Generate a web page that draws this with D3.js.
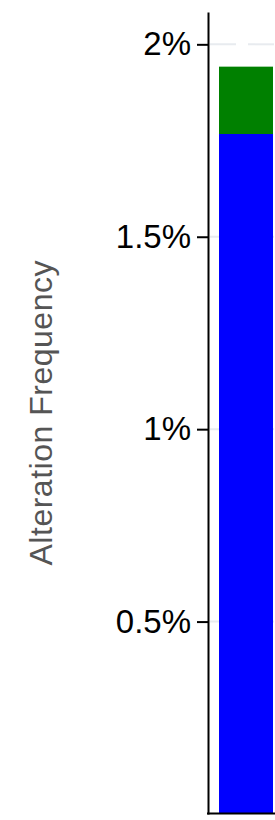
<!DOCTYPE html>
<html>
<head>
<meta charset="utf-8">
<script src="https://cdn.jsdelivr.net/npm/d3@7"></script>
<style>
    body { margin: 0; background: #fff; }
    svg { display: block; font-family: "Liberation Sans", Arial, Helvetica, sans-serif; }
</style>
</head>
<body>
<div id="chart"></div>
<script>
var categories = ["Cancer Study"];
var seriesNames = ["Deep Deletion", "Mutation"];
var seriesColors = ["#0000ff", "#008000"];
var deepDeletion = [0.01767];
var mutation = [0.00175];
var tickValues = [0.005, 0.01, 0.015, 0.02];
var tickLabels = ["0.5%", "1%", "1.5%", "2%"];

var rows = categories.map((c, i) => ({ cat: c, "Deep Deletion": deepDeletion[i], "Mutation": mutation[i] }));
var stacked = d3.stack().keys(seriesNames)(rows);

var svg = d3.select("#chart")
    .append("svg")
    .attr("width", 275)
    .attr("height", 820);

var yScale = d3.scaleLinear()
    .domain([0, 0.02084])
    .range([814, 12]);

var xScale = d3.scaleBand()
    .domain(categories)
    .range([219, 273])
    .padding(0);

// dashed gridlines
svg.append("g")
    .selectAll("line")
    .data(tickValues).enter().append("line")
    .attr("x1", 210).attr("x2", 275)
    .attr("y1", d => yScale(d)).attr("y2", d => yScale(d))
    .attr("stroke", "#e8ebef")
    .attr("stroke-width", 2)
    .attr("stroke-dasharray", "26,12");

// bars
svg.append("g")
    .selectAll("g")
    .data(stacked).enter().append("g")
    .attr("fill", (d, i) => seriesColors[i])
    .selectAll("rect")
    .data(d => d).enter().append("rect")
    .attr("x", d => xScale(d.data.cat))
    .attr("width", xScale.bandwidth())
    .attr("y", d => yScale(d[1]))
    .attr("height", d => yScale(d[0]) - yScale(d[1]));

// y axis
var yAxis = d3.axisLeft(yScale)
    .tickValues(tickValues)
    .tickFormat((d, i) => tickLabels[i])
    .tickSize(11)
    .tickPadding(6)
    .tickSizeOuter(0);

var yg = svg.append("g")
    .attr("transform", "translate(" + 208 + "," + 0 + ")")
    .call(yAxis);
yg.select(".domain").attr("stroke", "#000").attr("stroke-width", 2);
yg.selectAll(".tick line").attr("stroke", "#000").attr("stroke-width", 2);
yg.selectAll(".tick text")
    .attr("fill", "#000")
    .attr("font-size", 33)
    .attr("font-family", "'Liberation Sans', Arial, Helvetica, sans-serif");

// x axis line
svg.append("line")
    .attr("x1", 207).attr("x2", 275)
    .attr("y1", 813.5).attr("y2", 813.5)
    .attr("stroke", "#000")
    .attr("stroke-width", 2);

svg.append("g")
    .attr("transform", "translate(" + 52 + ", " + 413 + ")")
    .append("text")
    .attr("transform", "rotate(-90)")
    .attr("text-anchor", "middle")
    .attr("fill", "#555")
    .attr("font-size", 32)
    .attr("textLength", 305)
    .text("Alteration Frequency");
</script>
</body>
</html>
